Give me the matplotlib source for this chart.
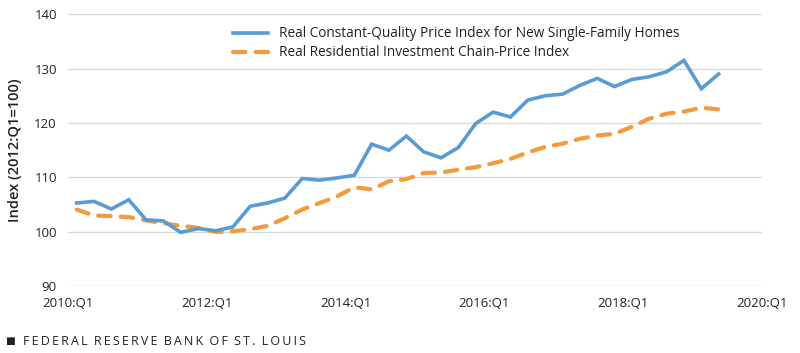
import matplotlib
matplotlib.use("Agg")
import matplotlib.pyplot as plt
import numpy as np

quarters = [f"{y}:Q{q}" for y in range(2010, 2020) for q in range(1, 5)][:38]
constant_quality = [105.3, 105.6, 104.2, 105.9, 102.2, 102.0, 99.9, 100.6, 100.2, 100.9,
                    104.7, 105.3, 106.2, 109.8, 109.5, 109.9, 110.4, 116.1, 115.0, 117.6,
                    114.7, 113.6, 115.5, 119.9, 122.0, 121.1, 124.2, 125.0, 125.3, 126.9,
                    128.2, 126.7, 128.0, 128.5, 129.4, 131.5, 126.3, 129.0]
residential_chain = [104.1, 103.0, 102.9, 102.7, 102.1, 101.6, 101.1, 100.75, 100.0, 100.1,
                     100.5, 101.1, 102.5, 104.1, 105.3, 106.5, 108.2, 107.8, 109.3, 109.7,
                     110.8, 110.9, 111.4, 111.9, 112.6, 113.4, 114.6, 115.6, 116.2, 117.1,
                     117.7, 118.0, 119.3, 120.8, 121.7, 122.1, 122.8, 122.5]
tick_labels = ["2010:Q1", "2012:Q1", "2014:Q1", "2016:Q1", "2018:Q1", "2020:Q1"]
series_names = ["Real Constant-Quality Price Index for New Single-Family Homes",
                "Real Residential Investment Chain-Price Index"]

plt.rcParams['font.family'] = ['Open Sans', 'DejaVu Sans']

fig = plt.figure(figsize=(8, 3.53), dpi=100)
ax = fig.add_axes([0.085, 0.189, 0.8675, 0.771])

x = np.arange(len(quarters)) + 0.5
ax.plot(x, constant_quality, color="#5B9BD5", lw=2.6, solid_joinstyle="miter",
        label=series_names[0], zorder=3)
ax.plot(x, residential_chain, color="#F39A3C", lw=3.0, dashes=(3.0, 2.4),
        dash_capstyle="round", label=series_names[1], zorder=2)

ax.set_xlim(0, 40)
ax.set_ylim(90, 140)
ax.set_yticks(np.arange(90, 141, 10))
ax.set_xticks(np.arange(0, 41, 8))
ax.set_xticklabels(tick_labels)
ax.tick_params(axis="both", length=0, labelsize=9.5, colors="#222222")
ax.tick_params(axis="y", pad=8)
ax.tick_params(axis="x", pad=8)
ax.grid(axis="y", color="#D9D9D9", lw=1.0)
ax.set_axisbelow(True)
for s in ax.spines.values():
    s.set_visible(False)

ax.set_ylabel("Index (2012:Q1=100)", fontsize=10.5, fontweight="semibold", color="#222222", labelpad=9)

leg = ax.legend(loc="upper left", bbox_to_anchor=(0.23, 0.975), frameon=False, fontsize=9.8,
                handlelength=2.6, handletextpad=0.8, labelspacing=0.3, borderaxespad=0)
for t in leg.get_texts():
    t.set_color("#222222")

fig.text(0.006, 0.033, "\u25A0", fontsize=7.5, color="#222222", va="center")
footer = "FEDERAL RESERVE BANK OF ST. LOUIS"
spaced = "\u2009".join(footer).replace("\u2009 \u2009", "\u2002")
fig.text(0.029, 0.033, spaced, fontsize=9.0, color="#222222", va="center")

fig.savefig("out.png", dpi=100)
